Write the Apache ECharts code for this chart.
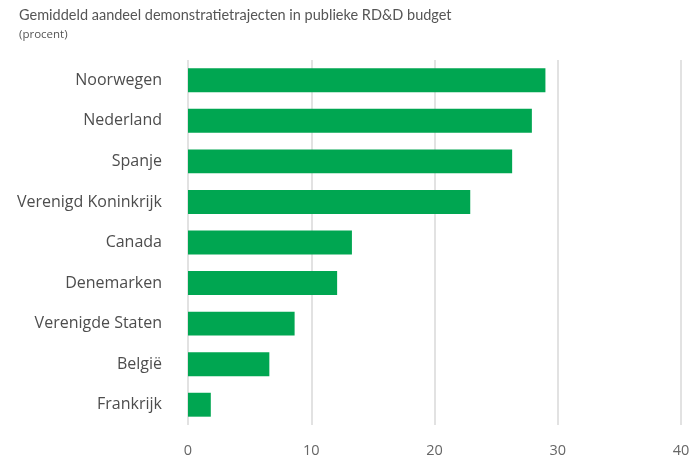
<!DOCTYPE html>
<html>
<head>
<meta charset="utf-8">
<script src="https://cdn.jsdelivr.net/npm/echarts@6/dist/echarts.min.js"></script>
<style>
  html, body { margin: 0; padding: 0; background: #fff; }
  #chart { width: 700px; height: 458px; }
</style>
</head>
<body>
<div id="chart"></div>
<script>
// landen, van onder naar boven zoals de categorie-as ze tekent
const countries = ['Frankrijk', 'België', 'Verenigde Staten', 'Denemarken', 'Canada',
  'Verenigd Koninkrijk', 'Spanje', 'Nederland', 'Noorwegen'];
const shares = [1.85, 6.6, 8.65, 12.1, 13.3, 22.9, 26.3, 27.9, 29.0];
const xTicks = [0, 10, 20, 30, 40];

const chart = echarts.init(document.getElementById('chart'));
chart.setOption({
  backgroundColor: '#fff',
  animation: false,
  textStyle: { fontFamily: 'Open Sans' },
  title: {
    text: 'Gemiddeld aandeel demonstratietrajecten in publieke RD&D budget',
    subtext: '(procent)',
    left: 14,
    top: 3,
    itemGap: 6,
    textStyle: { fontFamily: 'Lato', fontSize: 14.5, fontWeight: 'normal', color: '#555' },
    subtextStyle: { fontSize: 11.5, color: '#555' }
  },
  grid: { left: 188, right: 19, top: 60, bottom: 31 },
  xAxis: {
    type: 'value',
    min: xTicks[0],
    max: xTicks[xTicks.length - 1],
    interval: 10,
    axisLine: { show: false },
    axisTick: { show: false },
    axisLabel: { color: '#666', fontSize: 14.5, margin: 18 },
    splitLine: { lineStyle: { color: '#d9d9d9', width: 1.5 } }
  },
  yAxis: {
    type: 'category',
    data: countries,
    axisLine: { show: false },
    axisTick: { show: false },
    axisLabel: { color: '#4d4d4d', fontSize: 16, margin: 26 }
  },
  series: [{
    type: 'bar',
    data: shares,
    barCategoryGap: '41%',
    itemStyle: { color: '#00a651' }
  }]
});
</script>
</body>
</html>
